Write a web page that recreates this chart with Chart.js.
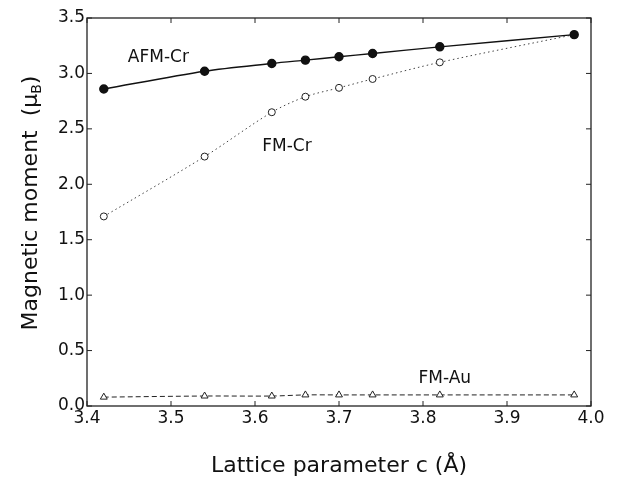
<!DOCTYPE html>
<html>
<head>
<meta charset="utf-8">
<script src="https://cdn.jsdelivr.net/npm/chart.js@4"></script>
<style>
  body { margin: 0; background: #fff; }
  #wrap { width: 622px; height: 483px; }
</style>
</head>
<body>
<div id="wrap"><canvas id="chart" width="622" height="483"></canvas></div>
<script>
// lattice parameter c (Angstrom)
var latticeC = [3.42, 3.54, 3.62, 3.66, 3.70, 3.74, 3.82, 3.98];
// magnetic moments (mu_B)
var afmCr = [2.86, 3.02, 3.09, 3.12, 3.15, 3.18, 3.24, 3.35];
var fmCr = [1.71, 2.25, 2.65, 2.79, 2.87, 2.95, 3.10, 3.35];
var fmAu = [0.08, 0.09, 0.09, 0.10, 0.10, 0.10, 0.10, 0.10];

var seriesNames = ['AFM-Cr', 'FM-Cr', 'FM-Au'];

function toPoints(ys) {
    return latticeC.map(function (x, i) { return { x: x, y: ys[i] }; });
}

var FONT = '"DejaVu Sans", Verdana, sans-serif';

// box frame, inward ticks, in-plot labels and the y title (needs a subscript)
var framePlugin = {
    id: 'frame',
    afterDraw: function (chart) {
        var c = chart.ctx, a = chart.chartArea;
        var xs = chart.scales.x, ys = chart.scales.y;
        c.save();
        c.strokeStyle = '#222';
        c.lineWidth = 1.3;
        c.strokeRect(a.left, a.top, a.right - a.left, a.bottom - a.top);
        c.lineWidth = 1;
        xs.ticks.forEach(function (t) {
            var px = xs.getPixelForValue(t.value);
            c.beginPath();
            c.moveTo(px, a.bottom); c.lineTo(px, a.bottom - 5);
            c.moveTo(px, a.top); c.lineTo(px, a.top + 5);
            c.stroke();
        });
        ys.ticks.forEach(function (t) {
            var py = ys.getPixelForValue(t.value);
            c.beginPath();
            c.moveTo(a.left, py); c.lineTo(a.left + 5, py);
            c.moveTo(a.right, py); c.lineTo(a.right - 5, py);
            c.stroke();
        });
        c.fillStyle = '#111';
        c.font = '17px ' + FONT;
        c.textAlign = 'center';
        c.textBaseline = 'middle';
        c.fillText(seriesNames[0], xs.getPixelForValue(3.485), ys.getPixelForValue(3.14));
        c.fillText(seriesNames[1], xs.getPixelForValue(3.638), ys.getPixelForValue(2.34));
        c.fillText(seriesNames[2], xs.getPixelForValue(3.826), ys.getPixelForValue(0.25));

        // y axis title: Magnetic moment (μB) with subscript B
        var main = 'Magnetic moment  (μ', sub = 'B', close = ')';
        var big = '22px ' + FONT, small = '14px ' + FONT;
        c.font = big;
        var w1 = c.measureText(main).width, w3 = c.measureText(close).width;
        c.font = small;
        var w2 = c.measureText(sub).width;
        var total = w1 + w2 + w3;
        c.translate(31, 203);
        c.rotate(-Math.PI / 2);
        c.textAlign = 'left';
        c.textBaseline = 'middle';
        c.font = big;
        c.fillText(main, -total / 2, 0);
        c.font = small;
        c.fillText(sub, -total / 2 + w1, 6);
        c.font = big;
        c.fillText(close, -total / 2 + w1 + w2, 0);
        c.restore();
    }
};

var ctx = document.getElementById('chart').getContext('2d');
var chart = new Chart(ctx, {
    type: 'scatter',
    data: {
        datasets: [{
            label: seriesNames[0],
            data: toPoints(afmCr),
            showLine: true,
            borderColor: '#111',
            borderWidth: 1.4,
            backgroundColor: '#111',
            pointBackgroundColor: '#111',
            pointBorderColor: '#111',
            pointRadius: 4,
            tension: 0.3
        }, {
            label: seriesNames[1],
            data: toPoints(fmCr),
            showLine: true,
            borderColor: '#444',
            borderWidth: 1,
            borderDash: [1.5, 3],
            pointBackgroundColor: '#fff',
            pointBorderColor: '#222',
            pointBorderWidth: 1,
            pointRadius: 3.5,
            tension: 0.3
        }, {
            label: seriesNames[2],
            data: toPoints(fmAu),
            showLine: true,
            borderColor: '#222',
            borderWidth: 1,
            borderDash: [5, 3],
            pointStyle: 'triangle',
            pointBackgroundColor: '#fff',
            pointBorderColor: '#222',
            pointBorderWidth: 1,
            pointRadius: 4,
            tension: 0.3
        }]
    },
    options: {
        responsive: false,
        animation: false,
        layout: { padding: { top: 18, right: 31 } },
        plugins: {
            legend: { display: false },
            tooltip: { enabled: false }
        },
        scales: {
            x: {
                type: 'linear',
                min: 3.4,
                max: 4.0,
                ticks: {
                    stepSize: 0.1,
                    color: '#111',
                    font: { family: FONT, size: 17 },
                    padding: 2,
                    callback: function (v) { return v.toFixed(1); }
                },
                grid: { display: false, drawTicks: false },
                border: { display: false },
                title: {
                    display: true,
                    text: 'Lattice parameter c (Å)',
                    color: '#111',
                    font: { family: FONT, size: 22 },
                    padding: { top: 12 }
                },
                afterFit: function (s) { s.height = 77; }
            },
            y: {
                min: 0,
                max: 3.5,
                ticks: {
                    stepSize: 0.5,
                    color: '#111',
                    font: { family: FONT, size: 17 },
                    padding: 2,
                    callback: function (v) { return v.toFixed(1); }
                },
                grid: { display: false, drawTicks: false },
                border: { display: false },
                afterFit: function (s) { s.width = 87; }
            }
        }
    },
    plugins: [framePlugin]
});
</script>
</body>
</html>
